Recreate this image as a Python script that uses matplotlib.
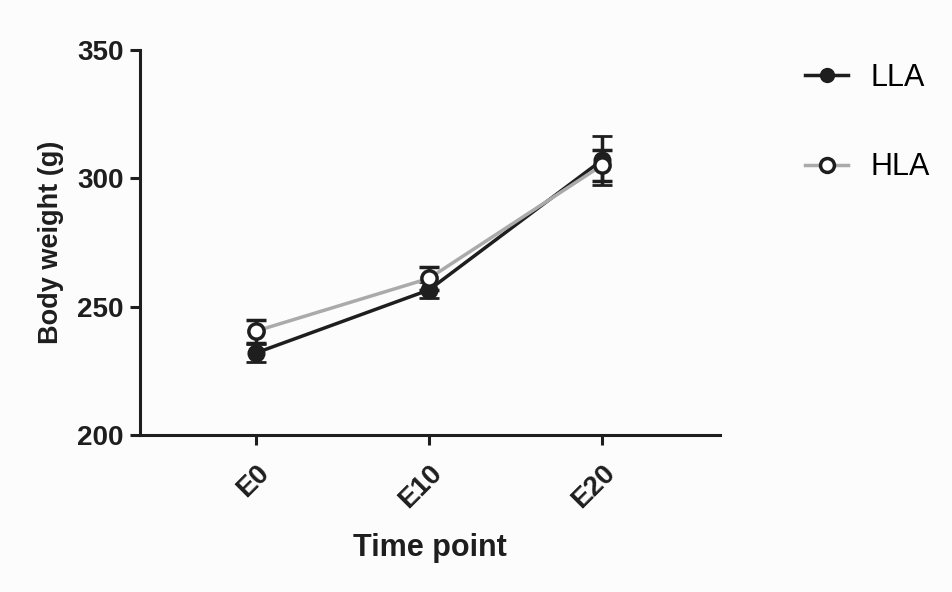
import matplotlib
matplotlib.use("Agg")
import matplotlib.pyplot as plt
from matplotlib.lines import Line2D
import numpy as np

categories = ["E0", "E10", "E20"]
lla_mean = [232, 256.5, 307]
lla_err = [3.5, 3, 9.5]
hla_mean = [240.5, 261, 305]
hla_err = [4.5, 4.5, 6]

plt.rcParams['font.family'] = ['Liberation Sans', 'DejaVu Sans']

fig = plt.figure(figsize=(9.53, 5.92), dpi=100)
fig.patch.set_facecolor('#fcfcfc')
ax = fig.add_axes([0.147, 0.265, 0.608, 0.651])
ax.set_facecolor('#fcfcfc')

dark = '#1e1e1e'
x = np.arange(len(categories))
ax.errorbar(x, hla_mean, yerr=hla_err, color='#aaaaaa', lw=2.5, marker='o',
            ms=11, mfc='white', mec=dark, mew=2.5, ecolor=dark,
            elinewidth=2.5, capsize=7, capthick=2.5, zorder=3)
ax.errorbar(x, lla_mean, yerr=lla_err, color=dark, lw=2.5, marker='o',
            ms=11, mfc=dark, mec=dark, mew=2, ecolor=dark,
            elinewidth=2.5, capsize=7, capthick=2.5, zorder=2)

ax.set_xlim(-0.67, 2.68)
ax.set_ylim(200, 350)
ax.set_yticks([200, 250, 300, 350])
ax.set_xticks(x)
ax.set_xticklabels(categories, rotation=45, ha='right', rotation_mode='anchor')
for s in ['top', 'right']:
    ax.spines[s].set_visible(False)
for s in ['left', 'bottom']:
    ax.spines[s].set_linewidth(2.2)
    ax.spines[s].set_color(dark)
ax.tick_params(axis='both', width=2.2, length=7, color=dark, labelsize=20,
               labelcolor=dark)
ax.tick_params(axis='x', pad=11)
ax.tick_params(axis='y', pad=5)
for lbl in ax.get_xticklabels() + ax.get_yticklabels():
    lbl.set_fontweight('bold')
ax.set_xlabel('Time point', fontsize=22, fontweight='bold', color=dark, labelpad=14)
ax.set_ylabel('Body weight (g)', fontsize=19.5, fontweight='bold', color=dark, labelpad=9)

h_lla = Line2D([], [], color=dark, lw=2.5, marker='o', ms=10, mfc=dark, mec=dark)
h_hla = Line2D([], [], color='#aaaaaa', lw=2.5, marker='o', ms=10, mfc='white',
               mec=dark, mew=2.5)
fig.legend([h_lla, h_hla], ['LLA', 'HLA'], loc='upper left',
           bbox_to_anchor=(0.845, 0.894), borderaxespad=0, borderpad=0,
           frameon=False, fontsize=22, handlelength=1.4, labelspacing=1.95,
           handletextpad=0.75)

fig.savefig('out.png', dpi=100, facecolor=fig.get_facecolor())
